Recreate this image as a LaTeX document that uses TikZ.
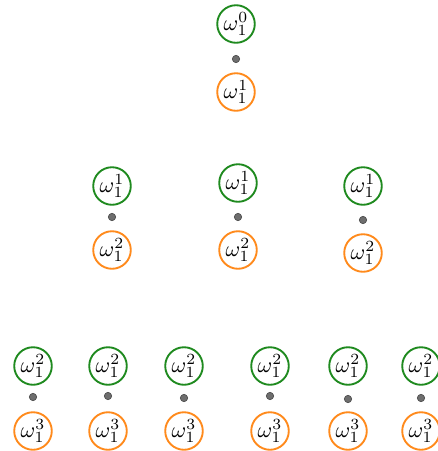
\documentclass[tikz,border=0pt]{standalone}
\usepackage{amsmath,amssymb}
\usepackage{tikz}
\definecolor{cOld}{HTML}{1F8A1F}
\definecolor{cNew}{HTML}{FF8A1C}
\definecolor{cDot}{HTML}{6E6E6E}

\begin{document}
\begin{tikzpicture}[
  x=0.45pt,y=-0.45pt,
  wnode/.style={circle,draw,line width=0.85pt,minimum size=16.9pt,inner sep=0pt},
  wold/.style ={wnode,draw=cOld},
  wnew/.style ={wnode,draw=cNew},
  sep/.style  ={circle,fill=cDot,draw=cDot!70!black,line width=0.3pt,minimum size=3.3pt,inner sep=0pt},
]
\useasboundingbox (0,0) rectangle (438,451);

% level 0
\node[wold] (g0) at (236,24) {$\omega_1^0$};
\node[sep]  (d0) at (236,59) {};
\node[wnew] (o0) at (236,92) {$\omega_1^1$};

% level 1
\foreach \i/\x/\yg/\yd/\yo in {1/112/186/217/250, 2/238/183/217/250, 3/363/186/220/253}
  {\node[wold] (g1\i) at (\x,\yg) {$\omega_1^1$};
   \node[sep]  (d1\i) at (\x,\yd) {};
   \node[wnew] (o1\i) at (\x,\yo) {$\omega_1^2$};}

% level 2
\foreach \i/\x/\yd in {1/33/397, 2/108/396, 3/184/398, 4/270/396, 5/348/399, 6/421/398}
  {\node[wold] (g2\i) at (\x,366) {$\omega_1^2$};
   \node[sep]  (d2\i) at (\x,\yd) {};
   \node[wnew] (o2\i) at (\x,431) {$\omega_1^3$};}
\end{tikzpicture}
\end{document}
